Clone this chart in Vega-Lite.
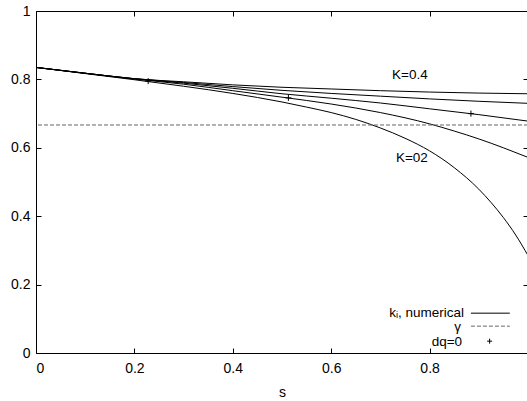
{
  "$schema": "https://vega.github.io/schema/vega-lite/v6.json",
  "width": 492,
  "height": 342,
  "autosize": "none",
  "padding": {"left": 36, "top": 11, "right": 0, "bottom": 48},
  "config": {
    "view": {"stroke": "black", "strokeWidth": 1},
    "font": "Liberation Sans",
    "axis": {"grid": false, "domain": false, "tickColor": "black", "tickSize": -5, "labelColor": "black", "labelFontSize": 14, "labelFont": "Liberation Sans", "titleColor": "black", "titleFontSize": 14, "titleFontWeight": "normal", "titleFont": "Liberation Sans"}
  },
  "datasets": {
    "curves": [
      {"K": "0.4", "s": 0, "v": 0.835}, {"K": "0.4", "s": 0.1, "v": 0.818}, {"K": "0.4", "s": 0.2, "v": 0.802}, {"K": "0.4", "s": 0.3, "v": 0.793}, {"K": "0.4", "s": 0.4, "v": 0.784}, {"K": "0.4", "s": 0.5, "v": 0.777}, {"K": "0.4", "s": 0.6, "v": 0.772}, {"K": "0.4", "s": 0.7, "v": 0.767}, {"K": "0.4", "s": 0.8, "v": 0.763}, {"K": "0.4", "s": 0.9, "v": 0.760}, {"K": "0.4", "s": 1.0, "v": 0.758},
      {"K": "0.35", "s": 0, "v": 0.835}, {"K": "0.35", "s": 0.1, "v": 0.818}, {"K": "0.35", "s": 0.2, "v": 0.802}, {"K": "0.35", "s": 0.3, "v": 0.791}, {"K": "0.35", "s": 0.4, "v": 0.779}, {"K": "0.35", "s": 0.5, "v": 0.768}, {"K": "0.35", "s": 0.6, "v": 0.759}, {"K": "0.35", "s": 0.7, "v": 0.751}, {"K": "0.35", "s": 0.8, "v": 0.743}, {"K": "0.35", "s": 0.9, "v": 0.736}, {"K": "0.35", "s": 1.0, "v": 0.730},
      {"K": "0.3", "s": 0, "v": 0.835}, {"K": "0.3", "s": 0.1, "v": 0.818}, {"K": "0.3", "s": 0.2, "v": 0.802}, {"K": "0.3", "s": 0.3, "v": 0.789}, {"K": "0.3", "s": 0.4, "v": 0.774}, {"K": "0.3", "s": 0.5, "v": 0.758}, {"K": "0.3", "s": 0.6, "v": 0.745}, {"K": "0.3", "s": 0.7, "v": 0.731}, {"K": "0.3", "s": 0.8, "v": 0.714}, {"K": "0.3", "s": 0.9, "v": 0.697}, {"K": "0.3", "s": 1.0, "v": 0.678},
      {"K": "0.25", "s": 0, "v": 0.835}, {"K": "0.25", "s": 0.1, "v": 0.818}, {"K": "0.25", "s": 0.2, "v": 0.801}, {"K": "0.25", "s": 0.3, "v": 0.786}, {"K": "0.25", "s": 0.4, "v": 0.767}, {"K": "0.25", "s": 0.5, "v": 0.748}, {"K": "0.25", "s": 0.6, "v": 0.728}, {"K": "0.25", "s": 0.7, "v": 0.703}, {"K": "0.25", "s": 0.8, "v": 0.670}, {"K": "0.25", "s": 0.85, "v": 0.649}, {"K": "0.25", "s": 0.9, "v": 0.626}, {"K": "0.25", "s": 0.95, "v": 0.600}, {"K": "0.25", "s": 1.0, "v": 0.572},
      {"K": "0.2", "s": 0, "v": 0.835}, {"K": "0.2", "s": 0.1, "v": 0.817}, {"K": "0.2", "s": 0.2, "v": 0.799}, {"K": "0.2", "s": 0.3, "v": 0.780}, {"K": "0.2", "s": 0.4, "v": 0.759}, {"K": "0.2", "s": 0.5, "v": 0.734}, {"K": "0.2", "s": 0.55, "v": 0.719}, {"K": "0.2", "s": 0.6, "v": 0.703}, {"K": "0.2", "s": 0.65, "v": 0.683}, {"K": "0.2", "s": 0.7, "v": 0.658}, {"K": "0.2", "s": 0.75, "v": 0.628}, {"K": "0.2", "s": 0.8, "v": 0.591}, {"K": "0.2", "s": 0.85, "v": 0.542}, {"K": "0.2", "s": 0.9, "v": 0.479}, {"K": "0.2", "s": 0.925, "v": 0.440}, {"K": "0.2", "s": 0.95, "v": 0.396}, {"K": "0.2", "s": 0.975, "v": 0.345}, {"K": "0.2", "s": 1.0, "v": 0.285}
    ],
    "dq0": [
      {"s": 0.228, "v": 0.795},
      {"s": 0.513, "v": 0.746},
      {"s": 0.884, "v": 0.700}
    ]
  },
  "resolve": {"axis": {"x": "independent", "y": "independent"}},
  "layer": [
    {
      "data": {"name": "curves"},
      "mark": {"type": "line", "color": "black", "strokeWidth": 1, "interpolate": "monotone", "clip": true},
      "encoding": {
        "x": {"field": "s", "type": "quantitative", "scale": {"domain": [0, 1]}, "axis": {"orient": "bottom", "values": [0, 0.2, 0.4, 0.6, 0.8], "format": "~g", "title": "s", "labelPadding": 13, "titlePadding": 10}},
        "y": {"field": "v", "type": "quantitative", "scale": {"domain": [0, 1]}, "axis": {"orient": "left", "values": [0, 0.2, 0.4, 0.6, 0.8, 1], "format": "~g", "title": null, "labelPadding": 11}},
        "detail": {"field": "K"}
      }
    },
    {
      "data": {"name": "dq0"},
      "mark": {"type": "point", "shape": "M-1,0L1,0M0,-1L0,1", "filled": false, "stroke": "black", "strokeWidth": 1, "size": 36, "opacity": 1},
      "encoding": {
        "x": {"field": "s", "type": "quantitative", "axis": {"orient": "top", "values": [0, 0.2, 0.4, 0.6, 0.8], "labels": false, "title": null}},
        "y": {"field": "v", "type": "quantitative", "axis": {"orient": "right", "values": [0, 0.2, 0.4, 0.6, 0.8, 1], "labels": false, "title": null}}
      }
    },
    {
      "data": {"values": [{}]},
      "mark": {"type": "rule", "stroke": "#666666", "strokeWidth": 1, "strokeDash": [4, 2]},
      "encoding": {"y": {"datum": 0.6667, "type": "quantitative", "axis": null}}
    },
    {
      "data": {"values": [{}]},
      "mark": {"type": "text", "fontSize": 13.5, "align": "center", "baseline": "middle", "color": "black"},
      "encoding": {"x": {"datum": 0.76, "type": "quantitative", "axis": null}, "y": {"datum": 0.813, "type": "quantitative", "axis": null}, "text": {"value": "K=0.4"}}
    },
    {
      "data": {"values": [{}]},
      "mark": {"type": "text", "fontSize": 13.5, "align": "center", "baseline": "middle", "color": "black"},
      "encoding": {"x": {"datum": 0.764, "type": "quantitative", "axis": null}, "y": {"datum": 0.57, "type": "quantitative", "axis": null}, "text": {"value": "K=02"}}
    },
    {
      "data": {"values": [{}]},
      "mark": {"type": "rule", "stroke": "black", "strokeWidth": 1},
      "encoding": {"x": {"datum": 0.884, "type": "quantitative", "axis": null}, "x2": {"datum": 0.963}, "y": {"datum": 0.1165, "type": "quantitative", "axis": null}}
    },
    {
      "data": {"values": [{}]},
      "mark": {"type": "rule", "stroke": "#666666", "strokeWidth": 1, "strokeDash": [4, 2]},
      "encoding": {"x": {"datum": 0.884, "type": "quantitative", "axis": null}, "x2": {"datum": 0.963}, "y": {"datum": 0.0785, "type": "quantitative", "axis": null}}
    },
    {
      "data": {"values": [{}]},
      "mark": {"type": "point", "shape": "M-1,0L1,0M0,-1L0,1", "filled": false, "stroke": "black", "strokeWidth": 1, "size": 25, "opacity": 1},
      "encoding": {"x": {"datum": 0.922, "type": "quantitative", "axis": null}, "y": {"datum": 0.0346, "type": "quantitative", "axis": null}}
    },
    {
      "data": {"values": [{}]},
      "mark": {"type": "text", "fontSize": 13.5, "align": "right", "baseline": "middle", "color": "black"},
      "encoding": {"x": {"datum": 0.87, "type": "quantitative", "axis": null}, "y": {"datum": 0.118, "type": "quantitative", "axis": null}, "text": {"value": "kᵢ, numerical"}}
    },
    {
      "data": {"values": [{}]},
      "mark": {"type": "text", "fontSize": 13.5, "align": "right", "baseline": "middle", "color": "black"},
      "encoding": {"x": {"datum": 0.864, "type": "quantitative", "axis": null}, "y": {"datum": 0.075, "type": "quantitative", "axis": null}, "text": {"value": "γ"}}
    },
    {
      "data": {"values": [{}]},
      "mark": {"type": "text", "fontSize": 13.5, "align": "right", "baseline": "middle", "color": "black"},
      "encoding": {"x": {"datum": 0.866, "type": "quantitative", "axis": null}, "y": {"datum": 0.032, "type": "quantitative", "axis": null}, "text": {"value": "dq=0"}}
    }
  ]
}
